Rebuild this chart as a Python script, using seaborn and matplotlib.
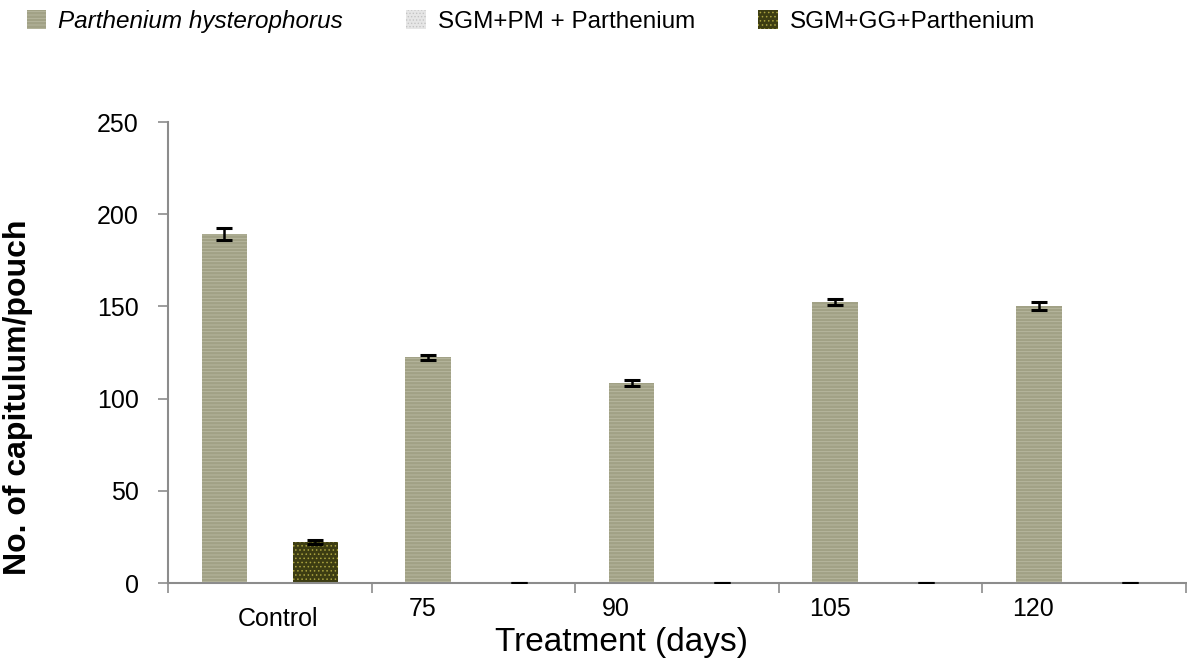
import numpy as np
import pandas as pd
import matplotlib
matplotlib.use('Agg')
import matplotlib.pyplot as plt
import matplotlib.transforms as mtransforms
import seaborn as sns

# data
treatments = ['Control', '75', '90', '105', '120']
series = ['Parthenium hysterophorus', 'SGM+PM + Parthenium', 'SGM+GG+Parthenium']
parthenium = [189.3, 122.3, 108.4, 152.3, 150.3]
parthenium_err = [3.3, 1.6, 1.7, 1.6, 2.2]
sgm_pm = [0, 0, 0, 0, 0]
sgm_gg = [22.3, 0, 0, 0, 0]
sgm_gg_err = [1.2, 0, 0, 0, 0]

df = pd.DataFrame({
    'treatment': treatments * 3,
    'series': [s for s in series for _ in treatments],
    'value': parthenium + sgm_pm + sgm_gg,
})

sns.set_style('white')
plt.rcParams['font.family'] = ['Liberation Sans', 'DejaVu Sans']
plt.rcParams['hatch.linewidth'] = 0.6
for k in ['text.color', 'axes.labelcolor', 'xtick.labelcolor', 'ytick.labelcolor']:
    plt.rcParams[k] = 'black'

fig = plt.figure(figsize=(11.87, 6.61), dpi=100)
ax = fig.add_axes([0.1415, 0.118, 0.8577, 0.6974])

face = ['#a1a185', '#e6e6e6', '#3d3d12']
hatch_col = ['#b9b9a2', '#c4c4c4', '#a9a23f']
hatches = ['-----', '.....', '....']

sns.barplot(data=df, x='treatment', y='value', hue='series', order=treatments,
            hue_order=series, width=0.67, errorbar=None, legend=False,
            palette=face, ax=ax)

for cont, fc, hc, h in zip(ax.containers, face, hatch_col, hatches):
    for bar in cont:
        bar.set_facecolor(fc)
        bar.set_edgecolor(hc)
        bar.set_hatch(h)
        bar.set_linewidth(0)

# error bars (SGM+PM has none)
for cont, vals, errs in [(ax.containers[0], parthenium, parthenium_err),
                         (ax.containers[2], sgm_gg, sgm_gg_err)]:
    xs = [b.get_x() + b.get_width() / 2 for b in cont]
    ax.errorbar(xs, vals, yerr=errs, fmt='none', ecolor='black',
                elinewidth=1.8, capsize=6, capthick=2.2, zorder=5)

ax.set_ylim(0, 250)
ax.set_xlim(-0.5, 4.5)
ax.set_yticks(np.arange(0, 251, 50))
ax.tick_params(axis='y', labelsize=18, length=7, width=1.2, color='#8c8c8c',
               pad=14, left=True, direction='out', labelcolor='black')

# category labels sit off-centre in the reference
label_offsets = [0.04, -0.25, -0.30, -0.25, -0.25]
ax.set_xticks([i + o for i, o in enumerate(label_offsets)])
ax.set_xticklabels(treatments)
ax.set_xticks(np.arange(-0.5, 5, 1), minor=True)
ax.tick_params(axis='x', which='major', length=0, labelsize=18, pad=10,
               labelcolor='black')
ax.tick_params(axis='x', which='minor', length=7, width=1.2, color='#8c8c8c',
               bottom=True, direction='out')
lbl = ax.get_xticklabels()[0]
lbl.set_transform(lbl.get_transform() +
                  mtransforms.ScaledTranslation(0, -0.10, fig.dpi_scale_trans))

for side in ['top', 'right']:
    ax.spines[side].set_visible(False)
for side in ['left', 'bottom']:
    ax.spines[side].set_color('#8c8c8c')
    ax.spines[side].set_linewidth(1.5)

ax.set_xlabel('Treatment (days)', fontsize=24)
ax.xaxis.set_label_coords(0.445, -0.095)
ax.set_ylabel('No. of capitulum/pouch', fontsize=23, fontweight='bold')
ax.yaxis.set_label_coords(-0.133, 0.403)

leg = fig.legend(handles=[c[0] for c in ax.containers], labels=series,
                 loc='upper left', bbox_to_anchor=(0.004, 1.018), ncol=3,
                 frameon=False, fontsize=17.5, handlelength=0.8,
                 handleheight=0.8, handletextpad=0.5, columnspacing=2.6)
leg.get_texts()[0].set_fontstyle('italic')

fig.savefig('out.png', dpi=100)
